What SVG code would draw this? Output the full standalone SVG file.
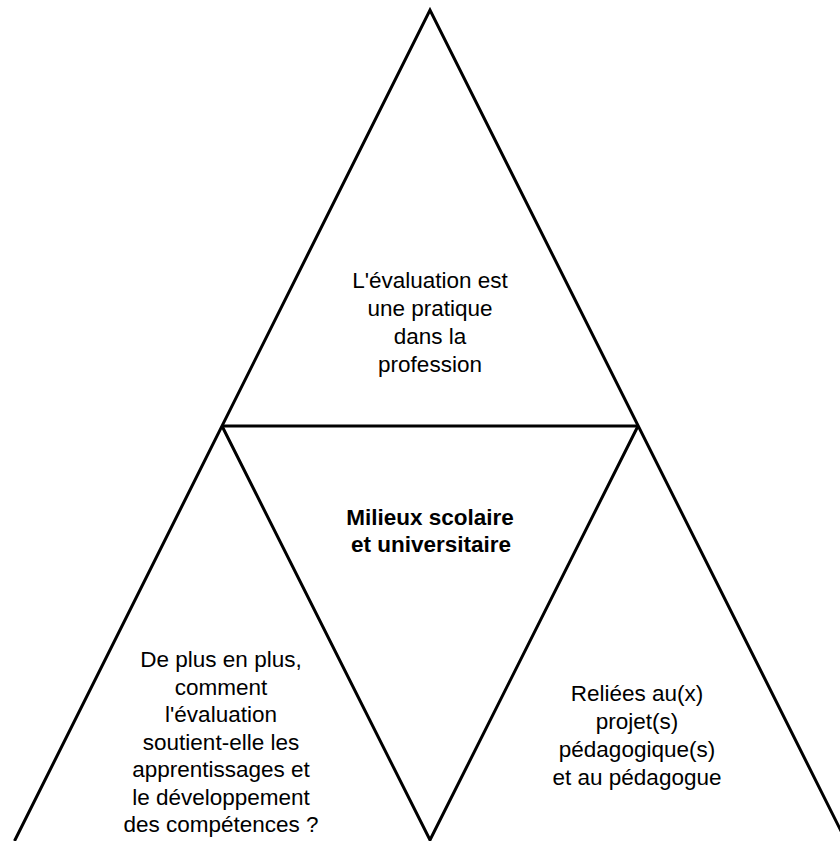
<svg xmlns="http://www.w3.org/2000/svg" width="840" height="841" viewBox="0 0 840 841">
  <style>
    .edge { fill: none; stroke: #000; stroke-width: 3; stroke-linejoin: miter; stroke-linecap: butt; }
    .lbl { font-family: "Liberation Sans", Arial, sans-serif; font-size: 22.5px; fill: #000; text-anchor: middle; }
    .bold { font-weight: bold; }
  </style>
  <rect width="840" height="841" fill="#fff"/>
  <g id="connectors">
    <polyline class="edge" points="14.5,841 430,10 847,843"/>
    <line class="edge" x1="222" y1="426" x2="638" y2="426"/>
    <polyline class="edge" points="222,426 430,840 638,426"/>
  </g>
  <g id="node-top">
    <text class="lbl" x="430" y="288">L'évaluation est</text>
    <text class="lbl" x="430" y="316">une pratique</text>
    <text class="lbl" x="430" y="344">dans la</text>
    <text class="lbl" x="430" y="372">profession</text>
  </g>
  <g id="node-center">
    <text class="lbl bold" x="430" y="525">Milieux scolaire</text>
    <text class="lbl bold" x="431" y="552">et universitaire</text>
  </g>
  <g id="node-left">
    <text class="lbl" x="221" y="667">De plus en plus,</text>
    <text class="lbl" x="221" y="694.5">comment</text>
    <text class="lbl" x="221" y="722">l'évaluation</text>
    <text class="lbl" x="221" y="749.5">soutient-elle les</text>
    <text class="lbl" x="221" y="777">apprentissages et</text>
    <text class="lbl" x="221" y="804.5">le développement</text>
    <text class="lbl" x="221" y="832">des compétences ?</text>
  </g>
  <g id="node-right">
    <text class="lbl" x="637" y="701">Reliées au(x)</text>
    <text class="lbl" x="637" y="729">projet(s)</text>
    <text class="lbl" x="637" y="757">pédagogique(s)</text>
    <text class="lbl" x="637" y="785">et au pédagogue</text>
  </g>
</svg>
